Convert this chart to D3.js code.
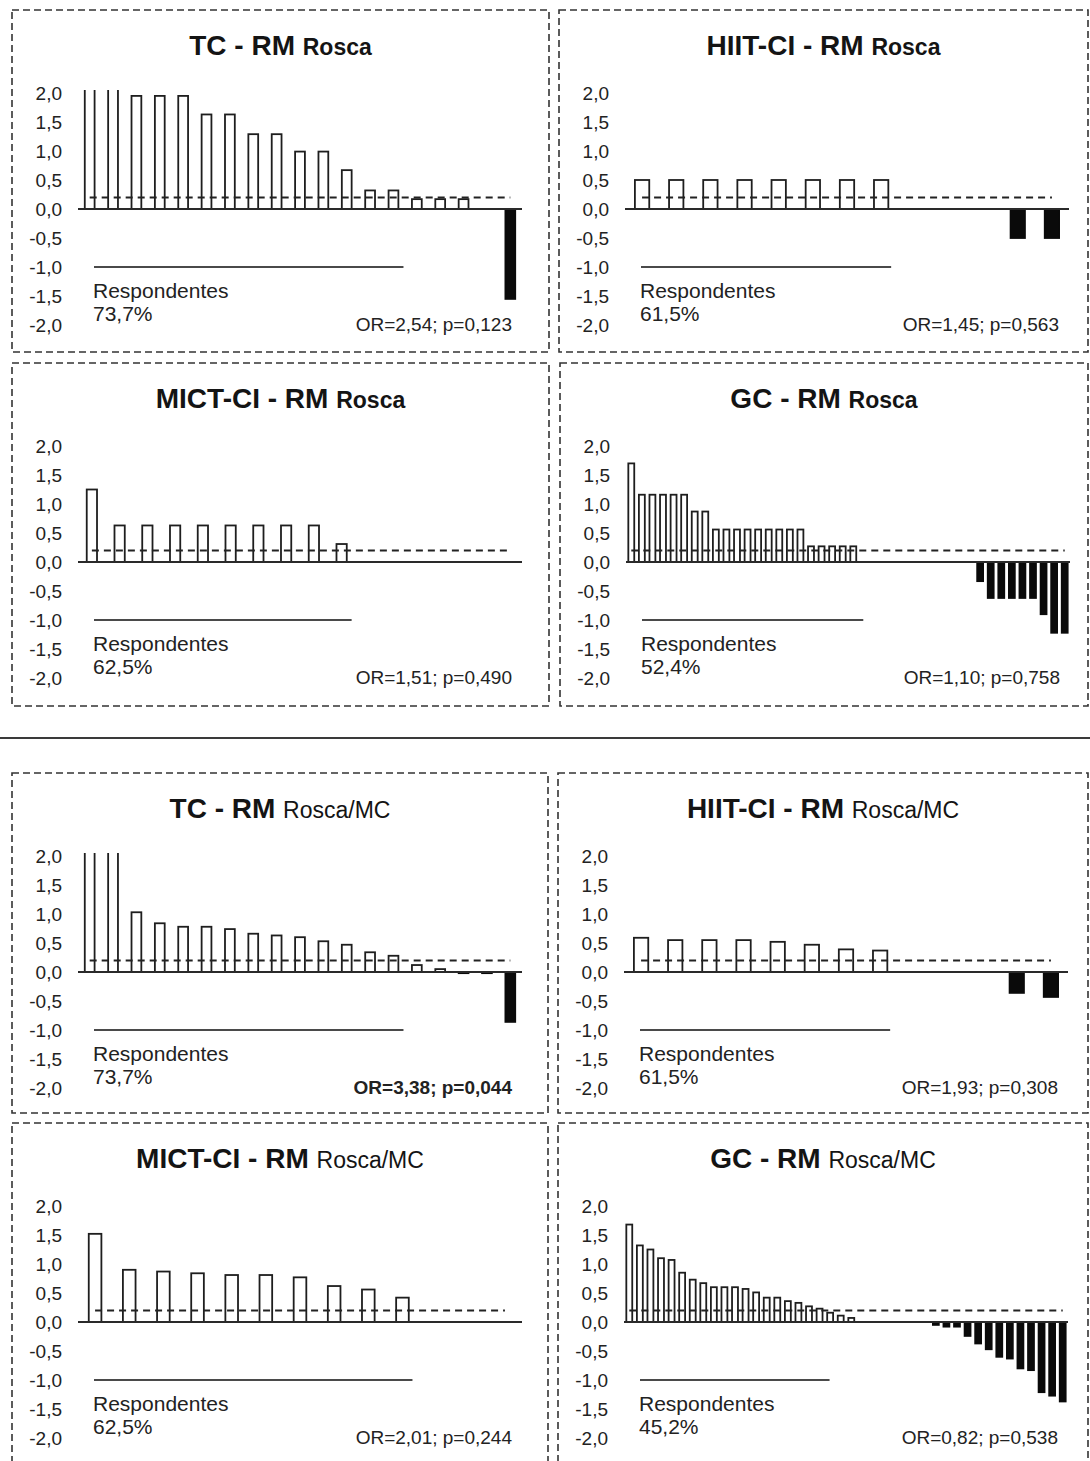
<!DOCTYPE html>
<html>
<head>
<meta charset="utf-8">
<script src="https://cdn.jsdelivr.net/npm/d3@7"></script>
<style>
  body { margin: 0; background: #fff; }
  svg { display: block; font-family: "Liberation Sans", Arial, sans-serif; }
</style>
</head>
<body>
<svg id="chart" width="1090" height="1461"></svg>
<script>
// Individual change scores per participant, sorted from largest gain to largest loss.
// Values above 2,0 are cut off by the top of the plot.
const tcRosca = [2.6, 2.6, 1.95, 1.95, 1.95, 1.63, 1.63, 1.29, 1.29, 0.99, 0.99, 0.67, 0.32, 0.32, 0.17, 0.17, 0.17, 0, -1.55];
const hiitRosca = [0.5, 0.5, 0.5, 0.5, 0.5, 0.5, 0.5, 0.5, 0, 0, 0, -0.5, -0.5];
const mictRosca = [1.25, 0.63, 0.63, 0.63, 0.63, 0.63, 0.63, 0.63, 0.63, 0.31, 0, 0, 0, 0, 0, 0];
const gcRosca = [1.7, 1.16, 1.16, 1.16, 1.16, 1.16, 0.87, 0.87,
  0.56, 0.56, 0.56, 0.56, 0.56, 0.56, 0.56, 0.56, 0.56,
  0.27, 0.27, 0.27, 0.27, 0.27,
  0, 0, 0, 0, 0, 0, 0, 0, 0, 0, 0,
  -0.33, -0.62, -0.62, -0.62, -0.62, -0.62, -0.9, -1.22, -1.22];

const tcRoscaMC = [2.6, 2.6, 1.03, 0.84, 0.78, 0.78, 0.74, 0.66, 0.63, 0.6, 0.53, 0.47, 0.34, 0.28, 0.12, 0.05, -0.02, -0.02, -0.86];
const hiitRoscaMC = [0.59, 0.55, 0.55, 0.55, 0.52, 0.47, 0.39, 0.37, 0, 0, 0, -0.36, -0.43];
const mictRoscaMC = [1.52, 0.9, 0.87, 0.84, 0.81, 0.81, 0.77, 0.62, 0.56, 0.42, 0, 0, 0];
const gcRoscaMC = [1.68, 1.32, 1.25, 1.1, 1.07, 0.85, 0.73, 0.67, 0.6, 0.6, 0.6, 0.57, 0.51, 0.42, 0.42, 0.36, 0.33, 0.27, 0.23,
  0.16, 0.11, 0.07,
  0, 0, 0, 0, 0, 0, 0,
  -0.05, -0.08, -0.08, -0.24, -0.37, -0.47, -0.6, -0.63, -0.8, -0.83, -1.21, -1.27, -1.37];

const groups = ["TC", "HIIT-CI", "MICT-CI", "GC"];
const outcomes = ["Rosca", "Rosca/MC"];
const responderPct = [["73,7%", "61,5%", "62,5%", "52,4%"], ["73,7%", "61,5%", "62,5%", "45,2%"]];
const oddsLabels = [
  ["OR=2,54; p=0,123", "OR=1,45; p=0,563", "OR=1,51; p=0,490", "OR=1,10; p=0,758"],
  ["OR=3,38; p=0,044", "OR=1,93; p=0,308", "OR=2,01; p=0,244", "OR=0,82; p=0,538"]
];
const yTicks = [2, 1.5, 1, 0.5, 0, -0.5, -1, -1.5, -2];
const responseThreshold = 0.2;   // minimal clinically relevant change
const responderBarLevel = -1.0;  // height of the "Respondentes" bracket

const seriesByOutcome = [
  [tcRosca, hiitRosca, mictRosca, gcRosca],
  [tcRoscaMC, hiitRoscaMC, mictRoscaMC, gcRoscaMC]
];

// Frame of each small panel, row by row
const frames = [
  [{x: 12, y: 10, w: 537, h: 342}, {x: 559, y: 10, w: 529, h: 342},
   {x: 12, y: 363, w: 537, h: 343}, {x: 560, y: 363, w: 528, h: 343}],
  [{x: 12, y: 773, w: 536, h: 340}, {x: 558, y: 773, w: 530, h: 340},
   {x: 12, y: 1123, w: 536, h: 360}, {x: 558, y: 1123, w: 530, h: 360}]
];
const barFill = [0.42, 0.42, 0.37, 0.56];

const svg = d3.select("#chart");
const locale = d3.formatLocale({decimal: ",", thousands: ".", grouping: [3], currency: ["", ""], minus: "-"});
const tickFmt = locale.format(".1f");

let clipId = 0;

function drawPanel(frame, values, group, outcome, pct, orText, frac, boldOR) {
  const g = svg.append("g");
  const x0 = frame.x + 66, x1 = frame.x + 510;

  g.append("rect")
    .attr("x", frame.x).attr("y", frame.y)
    .attr("width", frame.w).attr("height", frame.h)
    .attr("fill", "none").attr("stroke", "#333")
    .attr("stroke-width", 1.6).attr("stroke-dasharray", "7,4");

  const x = d3.scaleBand()
    .domain(d3.range(values.length))
    .range([x0, x1])
    .paddingInner(1 - frac)
    .paddingOuter((1 - frac) / 2);
  const y = d3.scaleLinear().domain([-2, 2]).range([frame.y + 315, frame.y + 83]);

  // title
  const title = g.append("text")
    .attr("x", frame.x + frame.w / 2).attr("y", frame.y + 45)
    .attr("text-anchor", "middle").attr("fill", "#141414");
  title.append("tspan").attr("font-size", 28).attr("font-weight", "bold").text(group + " - RM ");
  title.append("tspan").attr("font-size", 23)
    .attr("font-weight", outcome === "Rosca" ? "bold" : "normal").text(outcome);

  // y axis labels
  const ax = g.append("g")
    .attr("transform", `translate(${frame.x + 50},0)`)
    .call(d3.axisLeft(y).tickValues(yTicks).tickFormat(tickFmt).tickSize(0).tickPadding(0));
  ax.select(".domain").remove();
  ax.selectAll("text")
    .attr("font-size", 19).attr("fill", "#222")
    .attr("font-family", "'Liberation Sans', Arial, sans-serif");

  // bars, cut at the top of the plot
  const cid = "clip" + (clipId++);
  g.append("clipPath").attr("id", cid)
    .append("rect").attr("x", frame.x).attr("y", frame.y + 80)
    .attr("width", frame.w).attr("height", frame.h);

  g.append("g").attr("clip-path", `url(#${cid})`)
    .selectAll("rect")
    .data(values.map((v, i) => ({v, i})).filter(d => d.v !== 0))
    .join("rect")
    .attr("x", d => x(d.i))
    .attr("width", x.bandwidth())
    .attr("y", d => y(Math.max(0, d.v)))
    .attr("height", d => Math.abs(y(d.v) - y(0)))
    .attr("fill", d => d.v < 0 ? "#0a0a0a" : "#fff")
    .attr("stroke", d => d.v < 0 ? "#0a0a0a" : "#1e1e1e")
    .attr("stroke-width", 1.8);

  // zero line
  g.append("line")
    .attr("x1", x0).attr("x2", x1)
    .attr("y1", y(0)).attr("y2", y(0))
    .attr("stroke", "#2a2a2a").attr("stroke-width", 2.2);

  // response threshold
  const half = x.bandwidth() / 2;
  g.append("line")
    .attr("x1", x(0) + half).attr("x2", x(values.length - 1) + half)
    .attr("y1", y(responseThreshold)).attr("y2", y(responseThreshold))
    .attr("stroke", "#222").attr("stroke-width", 2).attr("stroke-dasharray", "7,5");

  // responders bracket
  const nResp = values.filter(v => v > responseThreshold).length;
  g.append("line")
    .attr("x1", x0 + 16).attr("x2", x(nResp - 1) + half + 10)
    .attr("y1", y(responderBarLevel)).attr("y2", y(responderBarLevel))
    .attr("stroke", "#4a4a4a").attr("stroke-width", 2.2);

  g.append("text")
    .attr("x", x0 + 15).attr("y", frame.y + 288)
    .attr("font-size", 21).attr("fill", "#222")
    .text("Respondentes");
  g.append("text")
    .attr("x", x0 + 15).attr("y", frame.y + 311)
    .attr("font-size", 21).attr("fill", "#222")
    .text(pct);

  g.append("text")
    .attr("x", frame.x + 500).attr("y", frame.y + 321)
    .attr("text-anchor", "end")
    .attr("font-size", 19).attr("fill", "#222")
    .attr("font-weight", boldOR ? "bold" : "normal")
    .text(orText);
}

outcomes.forEach((outcome, o) => {
  groups.forEach((group, k) => {
    drawPanel(frames[o][k], seriesByOutcome[o][k], group, outcome,
      responderPct[o][k], oddsLabels[o][k], barFill[k], o === 1 && k === 0);
  });
});

// separator between the two outcomes
svg.append("line")
  .attr("x1", 0).attr("x2", 1090)
  .attr("y1", 738).attr("y2", 738)
  .attr("stroke", "#3a3a3a").attr("stroke-width", 2);
</script>
</body>
</html>
